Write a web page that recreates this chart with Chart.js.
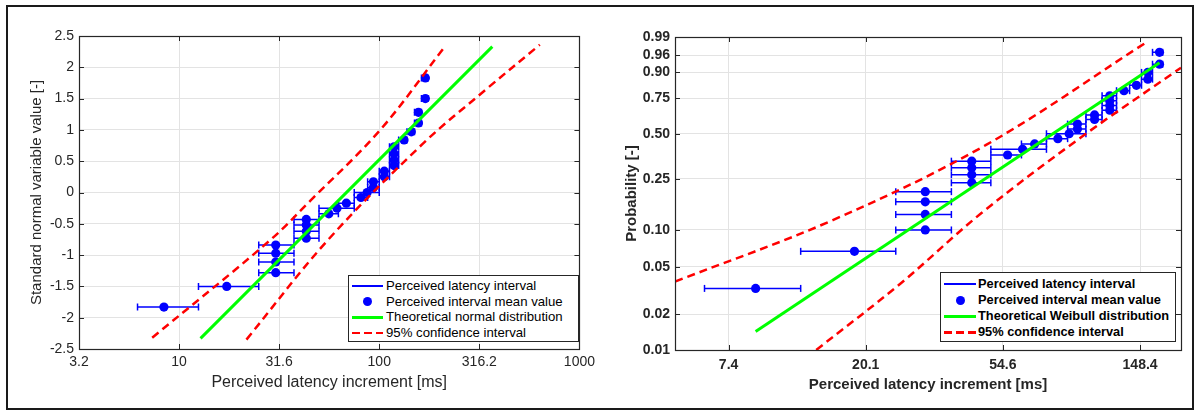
<!DOCTYPE html>
<html><head><meta charset="utf-8">
<script src="https://cdn.jsdelivr.net/npm/chart.js@4.4.1/dist/chart.umd.min.js"></script>
<style>
html,body{margin:0;padding:0;background:#fff;}
#wrap{position:relative;width:1195px;height:411px;overflow:hidden;background:#fff;}
#frame{position:absolute;left:6px;top:5px;width:1184px;height:401px;border:2px solid #1a1a1a;pointer-events:none;}
canvas{position:absolute;top:0;}
#c1{left:0;} #c2{left:600px;}
.legend{position:absolute;background:#fff;border:1px solid #262626;font-family:"Liberation Sans",Arial,sans-serif;color:#000;}
.row{position:absolute;left:0;right:0;height:16px;}
.row span{position:absolute;left:37px;top:0;line-height:16px;white-space:nowrap;}
.smp{position:absolute;top:8px;}
</style></head>
<body><div id="wrap">
<canvas id="c1" width="600" height="411"></canvas>
<canvas id="c2" width="595" height="411"></canvas>
<div id="frame"></div>
<div class="legend" id="lg1" style="left:348px;top:275px;width:229px;height:65px;font-size:13.2px;"></div>
<div class="legend" id="lg2" style="left:940px;top:272px;width:234px;height:68px;font-size:12.8px;font-weight:bold;"></div>
</div>
<script>
// ---------- data ----------
const intervalLo = [6.2,12.5,25,25,25,25,37.5,37.5,37.5,37.5,50,50,62.5,75,75,87.5,87.5,100,100,112.5,112.5,112.5,112.5,125,137.5,150,150,162.5,162.5];
const intervalHi = [12.5,25,37.5,37.5,37.5,37.5,50,50,50,50,62.5,75,75,87.5,100,100,100,112.5,112.5,125,125,125,125,137.5,150,162.5,162.5,175,175];
// left chart: normal probability plot
const leftMean = [8.4,17.3,30.4,30.4,30.4,30.4,43.2,43.2,43.2,43.2,56,61.5,68.5,81,87,93.5,93.5,106,106,118.6,118.6,118.6,118.6,133,144.6,157,157,170,170];
const leftZ = [-1.83,-1.50,-1.28,-1.11,-0.97,-0.84,-0.73,-0.62,-0.52,-0.43,-0.34,-0.25,-0.17,-0.08,0.00,0.08,0.17,0.25,0.34,0.43,0.52,0.62,0.73,0.84,0.97,1.11,1.28,1.50,1.83];
const leftFitX = [12.8, 367];
const leftFitZ = [-2.33, 2.33];
const leftUpperX = [7.34, 28.3, 45.3, 100.5, 210.4];
const leftUpperZ = [-2.32, -0.77, -0.13, 0.99, 2.31];
const leftLowerX = [21.7, 55.0, 165.2, 339.6, 634];
const leftLowerZ = [-2.35, -0.77, 0.78, 1.64, 2.36];
const leftXTicks = [3.1623, 10, 31.623, 100, 316.23, 1000];
const leftXTickLabels = ['3.2','10','31.6','100','316.2','1000'];
const leftYTicks = [-2.5,-2,-1.5,-1,-0.5,0,0.5,1,1.5,2,2.5];
const leftYTickLabels = ['-2.5','-2','-1.5','-1','-0.5','0','0.5','1','1.5','2','2.5'];
// right chart: Weibull probability plot
const rightMean = [9.0,18.5,31,31,31,31,43.5,43.5,43.5,43.5,56.5,63,68.8,81.5,88.5,94,94,106.5,106.5,119,119,119,119,132,144.5,157,157,171,171];
const rightP = [0.033,0.067,0.100,0.133,0.167,0.200,0.233,0.267,0.300,0.333,0.367,0.400,0.433,0.467,0.500,0.533,0.567,0.600,0.633,0.667,0.700,0.733,0.767,0.800,0.833,0.867,0.900,0.933,0.967];
const rightFitX = [9.0, 171];
const rightFitP = [0.0143, 0.938];
const rightUpperX = [5.0, 15.8, 48.3, 153.8];
const rightUpperP = [0.0376, 0.120, 0.427, 0.983];
const rightLowerX = [14.0, 25.9, 46.6, 96.8, 200];
const rightLowerP = [0.010, 0.0363, 0.136, 0.478, 0.92];
const rightXTicks = [7.389, 20.086, 54.598, 148.41];
const rightXTickLabels = ['7.4','20.1','54.6','148.4'];
const rightYTickP = [0.01,0.02,0.05,0.10,0.25,0.50,0.75,0.90,0.96,0.99];
const rightYTickLabels = ['0.01','0.02','0.05','0.10','0.25','0.50','0.75','0.90','0.96','0.99'];

// ---------- helpers ----------
const wb = p => Math.log(-Math.log(1 - p));
const BLUE = '#0000ff', GREEN = '#00ff00', RED = '#ff0000', AX = '#262626';
const FONT = '"Liberation Sans", Arial, sans-serif';
function barData(lo, hi, ys){
  const d = [];
  for (let i = 0; i < lo.length; i++){ d.push({x:lo[i],y:ys[i]},{x:hi[i],y:ys[i]},{x:hi[i],y:null}); }
  return d;
}
const pts = (xs, ys) => xs.map((x,i)=>({x, y: ys[i]}));

const boxPlugin = {
  id:'box',
  afterDraw(chart){
    const {ctx, chartArea:a, scales:{x,y}} = chart;
    const xt = chart.options.plugins.box.xt, yt = chart.options.plugins.box.yt;
    ctx.save();
    ctx.strokeStyle = AX; ctx.lineWidth = 1;
    ctx.beginPath();
    xt.forEach(v=>{ const p = Math.round(x.getPixelForValue(v))+0.5;
      ctx.moveTo(p,a.bottom); ctx.lineTo(p,a.bottom-5); ctx.moveTo(p,a.top); ctx.lineTo(p,a.top+5); });
    yt.forEach(v=>{ const p = Math.round(y.getPixelForValue(v))+0.5;
      ctx.moveTo(a.left,p); ctx.lineTo(a.left+5,p); ctx.moveTo(a.right,p); ctx.lineTo(a.right-5,p); });
    ctx.stroke();
    ctx.lineWidth = 1.2;
    ctx.strokeRect(Math.round(a.left)+0.5, Math.round(a.top)+0.5, Math.round(a.right-a.left), Math.round(a.bottom-a.top));
    ctx.restore();
  }
};

function makeChart(el, cfg){
  const bold = cfg.bold ? 'bold' : 'normal';
  return new Chart(document.getElementById(el), {
    type:'scatter',
    data:{datasets:[
      {data:barData(cfg.lo,cfg.hi,cfg.ys), showLine:true, spanGaps:false, borderColor:BLUE, borderWidth:1.5,
       pointStyle:'line', rotation:90, pointRadius:3.5, pointBorderColor:BLUE, pointBorderWidth:1.5, order:3},
      {data:pts(cfg.means,cfg.ys), showLine:false, pointStyle:'circle', pointRadius:4.6, backgroundColor:BLUE, borderColor:BLUE, borderWidth:0, order:2},
      {data:cfg.fit, showLine:true, borderColor:GREEN, borderWidth:3, pointRadius:0, order:1},
      {data:cfg.up, showLine:true, borderColor:RED, borderWidth:2.5, borderDash:[8,5], pointRadius:0, tension:0.35, order:0},
      {data:cfg.lowr, showLine:true, borderColor:RED, borderWidth:2.5, borderDash:[8,5], pointRadius:0, tension:0.35, order:0}
    ]},
    options:{
      responsive:false, animation:false, events:[],
      layout:{padding:cfg.pad},
      plugins:{legend:{display:false}, tooltip:{enabled:false}, box:{xt:cfg.xt, yt:cfg.yt}},
      scales:{
        x:{type:'logarithmic', min:cfg.xmin, max:cfg.xmax,
           afterBuildTicks:s=>{ s.ticks = cfg.xt.map(v=>({value:v})); },
           afterFit:s=>{ s.height = cfg.xh; },
           grid:{color:'#e3e3e3', drawTicks:false}, border:{display:false},
           ticks:{autoSkip:false, maxRotation:0, padding:cfg.xpad, color:AX, font:{family:FONT, size:14, weight:bold},
                  callback:(v,i)=>cfg.xl[i]},
           title:{display:true, text:'Perceived latency increment [ms]', color:AX, font:{family:FONT, size:cfg.xts, weight:bold}}},
        y:{type:'linear', min:cfg.ymin, max:cfg.ymax,
           afterBuildTicks:s=>{ s.ticks = cfg.yt.map(v=>({value:v})); },
           afterFit:s=>{ s.width = cfg.yw; },
           grid:{color:'#e3e3e3', drawTicks:false}, border:{display:false},
           ticks:{autoSkip:false, padding:5, color:AX, font:{family:FONT, size:14, weight:bold},
                  callback:(v,i)=>cfg.yl[i]},
           title:{display:true, text:cfg.ytitle, color:AX, font:{family:FONT, size:cfg.yts, weight:bold}}}
      }
    },
    plugins:[boxPlugin]
  });
}

makeChart('c1', {
  bold:false, lo:intervalLo, hi:intervalHi, ys:leftZ, means:leftMean,
  fit:pts(leftFitX,leftFitZ), up:pts(leftUpperX,leftUpperZ), lowr:pts(leftLowerX,leftLowerZ),
  xt:leftXTicks, xl:leftXTickLabels, yt:leftYTicks, yl:leftYTickLabels,
  xmin:Math.pow(10,0.5), xmax:1000, ymin:-2.5, ymax:2.5,
  pad:{left:24, right:15, top:36, bottom:15}, xh:47, yw:55, xpad:5, xts:16, yts:15,
  ytitle:'Standard normal variable value [-]'
});
makeChart('c2', {
  bold:true, lo:intervalLo, hi:intervalHi, ys:rightP.map(wb), means:rightMean,
  fit:pts(rightFitX,rightFitP.map(wb)), up:pts(rightUpperX,rightUpperP.map(wb)), lowr:pts(rightLowerX,rightLowerP.map(wb)),
  xt:rightXTicks, xl:rightXTickLabels, yt:rightYTickP.map(wb), yl:rightYTickLabels,
  xmin:5, xmax:200, ymin:wb(0.01), ymax:wb(0.99),
  pad:{left:19, right:14, top:37, bottom:13}, xh:48, yw:56, xpad:7, xts:15, yts:15,
  ytitle:'Probability [-]'
});

// ---------- legends (HTML text) ----------
function legend(id, names, rowTops, sw){
  const el = document.getElementById(id);
  const samples = [
    `<div class="smp" style="left:3px;width:${sw}px;height:0;border-top:2px solid ${BLUE};top:7px"></div>`,
    `<div class="smp" style="left:${3+sw/2-4.5}px;width:9px;height:9px;border-radius:50%;background:${BLUE};top:3.5px"></div>`,
    `<div class="smp" style="left:3px;width:${sw}px;height:3px;background:${GREEN};top:6.5px"></div>`,
    `<div class="smp" style="left:3px;width:${sw}px;height:2.5px;background:repeating-linear-gradient(90deg,${RED} 0 8px,transparent 8px 12px);top:7px"></div>`
  ];
  names.forEach((n,i)=>{
    el.insertAdjacentHTML('beforeend', `<div class="row" style="top:${rowTops[i]}px">${samples[i]}<span>${n}</span></div>`);
  });
}
legend('lg1', ['Perceived latency interval','Perceived interval mean value','Theoretical normal distribution','95% confidence interval'], [2,17.5,33,48.5], 31);
legend('lg2', ['Perceived latency interval','Perceived interval mean value','Theoretical Weibull distribution','95% confidence interval'], [3,19,35,51], 32);
</script>
</body></html>
